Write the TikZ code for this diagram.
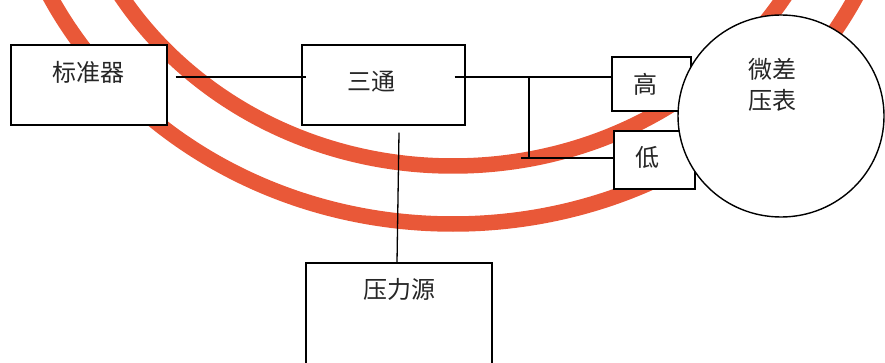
\documentclass[tikz,border=0pt]{standalone}
\usepackage{fontspec}
\usetikzlibrary{calc,shapes.geometric}
\newfontfamily\cjk{Noto Sans CJK SC}
\definecolor{pipe}{RGB}{233,88,56}
\begin{document}
\begin{tikzpicture}[x=1pt,y=-1pt,
  box/.style={draw=black,line width=1.4pt,fill=white,rectangle,inner sep=0pt},
  lbl/.style={font=\cjk\fontsize{24}{29}\selectfont,inner sep=0pt,text=black!85},
  wire/.style={line width=1.3pt},
  pipeline/.style={draw=pipe,line width=15.5pt}]
\useasboundingbox (0,0) rectangle (885,363);
\begin{scope}
\clip (0,0) rectangle (885,363);
\draw[pipeline] (453,-192) ellipse [x radius=390pt, y radius=358pt];
\draw[pipeline] (453,-186) ellipse [x radius=450pt, y radius=410pt];
% boxes
\node[box, minimum width=156pt, minimum height=80pt] (std) at (89,85) {};
\node[box, minimum width=163pt, minimum height=80pt] (tee) at (383.5,85) {};
\node[box, minimum width=79pt, minimum height=54pt] (high) at (651.5,84) {};
\node[box, minimum width=81pt, minimum height=58pt] (low) at (654.5,160) {};
\node[box, minimum width=186pt, minimum height=120pt] (src) at (399,323) {};
\node[draw=black, ellipse, fill=white, line width=1.4pt, inner sep=0pt,
      minimum width=206pt, minimum height=202pt] (gauge) at (781,116) {};
% labels
\node[lbl] (stdt) at (88.5,72.5) {标准器};
\node[lbl] (teet) at (371,82) {三通};
\node[lbl] (hight) at (645,84) {高};
\node[lbl] (lowt) at (647,157) {低};
\node[lbl] (gauget1) at (772.5,69) {微差};
\node[lbl] (gauget2) at (772.5,100) {压表};
\node[lbl] (srct) at (399,289) {压力源};
% connectors
\coordinate (j1) at (529,77);
\coordinate (j2) at (529,158);
\coordinate (j3) at (521,158);
\draw[wire] ($(std.east)+(8,-8)$) -- ($(tee.west)+(5,-8)$);
\draw[wire] ($(tee.east)+(-11,-8)$) -- ($(high.west)+(0,-7)$);
\draw[wire] (j1) -- (j2);
\draw[wire] (j3) -- ($(low.west)+(0,-2)$);
\draw[wire] ($(tee.south)+(15.5,7)$) -- ($(src.north)+(-2,0)$);
\end{scope}
\end{tikzpicture}
\end{document}
